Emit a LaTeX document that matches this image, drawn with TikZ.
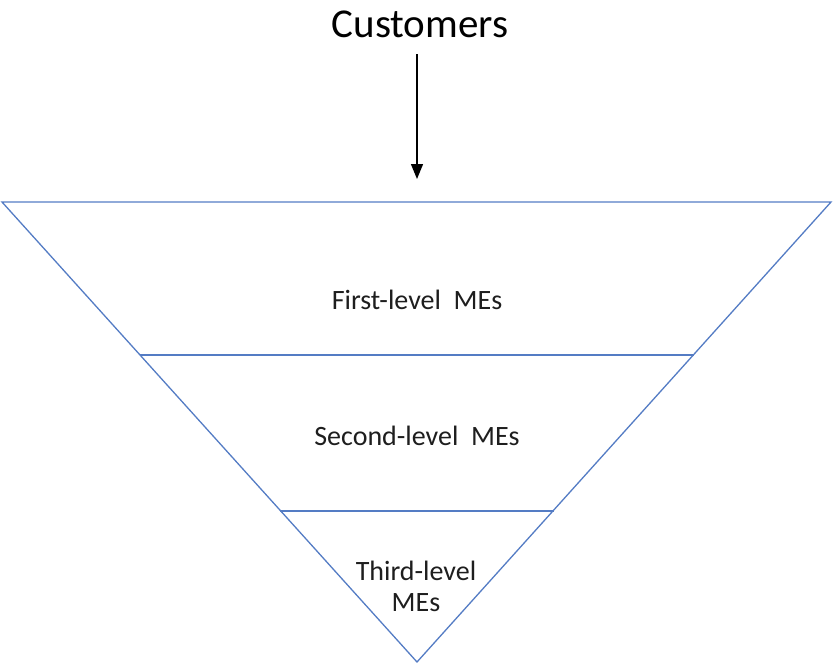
\documentclass[tikz,border=0pt]{standalone}
\usepackage{fontspec}
\setmainfont{Carlito}
\usetikzlibrary{arrows.meta}
\definecolor{tierblue}{RGB}{84,124,196}
\definecolor{labelink}{RGB}{30,30,30}
\begin{document}
\begin{tikzpicture}[x=1pt,y=-1pt,
  tierline/.style={draw=tierblue,line width=1.3pt},
  tierlabel/.style={text=labelink,font=\fontsize{28}{31}\selectfont,align=center,inner sep=0pt},
  flowarrow/.style={draw=black,line width=1.3pt,-{Triangle[width=12pt,length=15pt]}}]
  \useasboundingbox (0,0) rectangle (833,664);
  % funnel outline
  \coordinate (tl) at (2,202);
  \coordinate (tr) at (831,202);
  \coordinate (apex) at (417,662);
  \draw[tierline,line join=miter] (tl) -- (tr) -- (apex) -- cycle;
  % tier separators
  \coordinate (l1) at (140,355);
  \coordinate (r1) at (694,355);
  \coordinate (l2) at (280,511);
  \coordinate (r2) at (554,511);
  \draw[tierline] (l1) -- (r1);
  \draw[tierline] (l2) -- (r2);
  % labels
  \node[tierlabel] (first) at (417,300) {First-level\ \ MEs};
  \node[tierlabel] (second) at (417,436) {Second-level\ \ MEs};
  \node[tierlabel] (third) at (416,586) {Third-level\\MEs};
  % incoming customers
  \node[text=black,font=\fontsize{41}{48}\selectfont,inner sep=0pt] (cust) at (420,24) {Customers};
  \coordinate (entry) at (417,179);
  \draw[flowarrow] (417,54) -- (entry);
\end{tikzpicture}
\end{document}
